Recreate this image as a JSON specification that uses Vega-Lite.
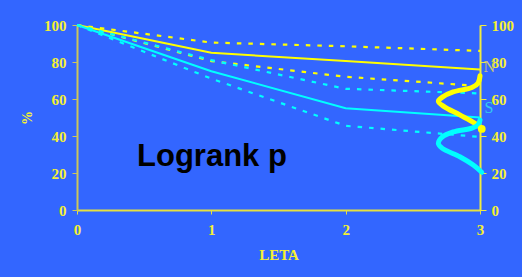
{
  "$schema": "https://vega.github.io/schema/vega-lite/v6.json",
  "width": 403,
  "height": 185,
  "autosize": {"type": "none"},
  "padding": {"left": 77, "top": 25, "right": 42, "bottom": 67},
  "background": "#3366FF",
  "config": {
    "view": {"stroke": null},
    "axis": {
      "grid": false,
      "labelFont": "Liberation Serif",
      "labelFontWeight": "bold",
      "labelFontSize": 15,
      "labelColor": "#F5F032",
      "titleFont": "Liberation Serif",
      "titleFontWeight": "bold",
      "titleFontSize": 15,
      "titleColor": "#F5F032"
    }
  },
  "datasets": {
    "curves": [
      {"s": "YS", "x": 0, "y": 100}, {"s": "YS", "x": 1, "y": 85}, {"s": "YS", "x": 2, "y": 80.5}, {"s": "YS", "x": 3, "y": 76},
      {"s": "YU", "x": 0, "y": 100}, {"s": "YU", "x": 1, "y": 90.5}, {"s": "YU", "x": 2, "y": 88.5}, {"s": "YU", "x": 3, "y": 86},
      {"s": "YL", "x": 0, "y": 100}, {"s": "YL", "x": 1, "y": 80.5}, {"s": "YL", "x": 2, "y": 72}, {"s": "YL", "x": 3, "y": 67},
      {"s": "CS", "x": 0, "y": 100}, {"s": "CS", "x": 1, "y": 75}, {"s": "CS", "x": 2, "y": 55}, {"s": "CS", "x": 3, "y": 50},
      {"s": "CU", "x": 0, "y": 100}, {"s": "CU", "x": 1, "y": 81}, {"s": "CU", "x": 2, "y": 65.5}, {"s": "CU", "x": 3, "y": 63},
      {"s": "CL", "x": 0, "y": 100}, {"s": "CL", "x": 1, "y": 71}, {"s": "CL", "x": 2, "y": 45.5}, {"s": "CL", "x": 3, "y": 39.5}
    ],
    "waves": [
      {"s": "YW", "i": 1, "x": 3.0, "y": 72.5}, {"s": "YW", "i": 2, "x": 2.985, "y": 68.5}, {"s": "YW", "i": 3, "x": 2.94, "y": 66.2},
      {"s": "YW", "i": 4, "x": 2.8, "y": 63.8}, {"s": "YW", "i": 5, "x": 2.72, "y": 61}, {"s": "YW", "i": 6, "x": 2.69, "y": 58.8},
      {"s": "YW", "i": 7, "x": 2.73, "y": 56}, {"s": "YW", "i": 8, "x": 2.85, "y": 51.4}, {"s": "YW", "i": 9, "x": 2.96, "y": 47},
      {"s": "YW", "i": 10, "x": 3.005, "y": 44.5},
      {"s": "CW", "i": 1, "x": 3.0, "y": 48.6}, {"s": "CW", "i": 2, "x": 2.985, "y": 46}, {"s": "CW", "i": 3, "x": 2.94, "y": 44.3},
      {"s": "CW", "i": 4, "x": 2.8, "y": 42.2}, {"s": "CW", "i": 5, "x": 2.72, "y": 39.5}, {"s": "CW", "i": 6, "x": 2.69, "y": 36},
      {"s": "CW", "i": 7, "x": 2.72, "y": 33.3}, {"s": "CW", "i": 8, "x": 2.85, "y": 28.8}, {"s": "CW", "i": 9, "x": 2.95, "y": 24.3},
      {"s": "CW", "i": 10, "x": 3.013, "y": 20.4}
    ],
    "dots": [{"x": 3.013, "y": 43.8}],
    "labels": [
      {"t": "N", "x": 3.07, "y": 77.3, "c": "N"},
      {"t": "S", "x": 3.067, "y": 55, "c": "S"}
    ],
    "note": [{"t": "Logrank p", "x": 0.447, "y": 23.8}]
  },
  "layer": [
    {
      "data": {"name": "curves"},
      "transform": [{"filter": "datum.s === 'YS'"}],
      "mark": {"type": "line", "color": "#FFFF00", "strokeWidth": 2},
      "encoding": {
        "x": {"field": "x", "type": "quantitative", "scale": {"domain": [0, 3], "nice": false},
          "axis": {"values": [0, 1, 2, 3], "format": "d", "title": "LETA", "tickSize": 4, "labelPadding": 8, "titlePadding": 10, "domainColor": "#E6E040", "tickColor": "#E6E040", "domainWidth": 2, "labelFlush": false}},
        "y": {"field": "y", "type": "quantitative", "scale": {"domain": [0, 100], "nice": false},
          "axis": {"orient": "left", "values": [0, 20, 40, 60, 80, 100], "title": "%", "titleFontSize": 14, "tickSize": 5, "labelPadding": 6, "titlePadding": 9, "domainColor": "#CCC65A", "tickColor": "#CCC65A", "domainWidth": 2}}
      }
    },
    {
      "data": {"name": "curves"},
      "transform": [{"filter": "datum.s === 'YU' || datum.s === 'YL'"}],
      "mark": {"type": "line", "color": "#FFFF00", "strokeWidth": 2.2, "strokeDash": [4.5, 7]},
      "encoding": {
        "x": {"field": "x", "type": "quantitative"},
        "y": {"field": "y", "type": "quantitative", "axis": null},
        "detail": {"field": "s"}
      }
    },
    {
      "data": {"name": "curves"},
      "transform": [{"filter": "datum.s === 'CS'"}],
      "mark": {"type": "line", "color": "#00FFFF", "strokeWidth": 2},
      "encoding": {
        "x": {"field": "x", "type": "quantitative"},
        "y": {"field": "y", "type": "quantitative",
          "axis": {"orient": "right", "values": [0, 20, 40, 60, 80, 100], "title": null, "tickSize": 6, "labelPadding": 5, "domainColor": "#F0EC40", "tickColor": "#F0EC40", "domainWidth": 2}}
      }
    },
    {
      "data": {"name": "curves"},
      "transform": [{"filter": "datum.s === 'CU' || datum.s === 'CL'"}],
      "mark": {"type": "line", "color": "#00FFFF", "strokeWidth": 2.2, "strokeDash": [4.5, 7]},
      "encoding": {
        "x": {"field": "x", "type": "quantitative"},
        "y": {"field": "y", "type": "quantitative", "axis": null},
        "detail": {"field": "s"}
      }
    },
    {
      "data": {"name": "waves"},
      "mark": {"type": "line", "strokeWidth": 5, "strokeCap": "round", "interpolate": "catmull-rom"},
      "encoding": {
        "x": {"field": "x", "type": "quantitative"},
        "y": {"field": "y", "type": "quantitative", "axis": null},
        "order": {"field": "i", "type": "quantitative"},
        "detail": {"field": "s"},
        "color": {"field": "s", "type": "nominal", "scale": {"domain": ["YW", "CW"], "range": ["#FFFF00", "#00FFFF"]}, "legend": null}
      }
    },
    {
      "data": {"name": "dots"},
      "mark": {"type": "point", "filled": true, "color": "#FFFF00", "size": 60, "opacity": 1},
      "encoding": {
        "x": {"field": "x", "type": "quantitative"},
        "y": {"field": "y", "type": "quantitative", "axis": null}
      }
    },
    {
      "data": {"name": "labels"},
      "mark": {"type": "text", "font": "Liberation Serif", "fontSize": 16, "align": "center", "baseline": "middle"},
      "encoding": {
        "x": {"field": "x", "type": "quantitative"},
        "y": {"field": "y", "type": "quantitative", "axis": null},
        "text": {"field": "t"},
        "color": {"field": "c", "type": "nominal", "scale": {"domain": ["N", "S"], "range": ["#C8C47A", "#33CCEE"]}, "legend": null}
      }
    },
    {
      "data": {"name": "note"},
      "mark": {"type": "text", "font": "Liberation Sans", "fontWeight": "bold", "fontSize": 31, "align": "left", "baseline": "alphabetic", "color": "#000000"},
      "encoding": {
        "x": {"field": "x", "type": "quantitative"},
        "y": {"field": "y", "type": "quantitative", "axis": null},
        "text": {"field": "t"}
      }
    }
  ],
  "resolve": {"axis": {"y": "independent"}, "scale": {"color": "independent"}}
}
